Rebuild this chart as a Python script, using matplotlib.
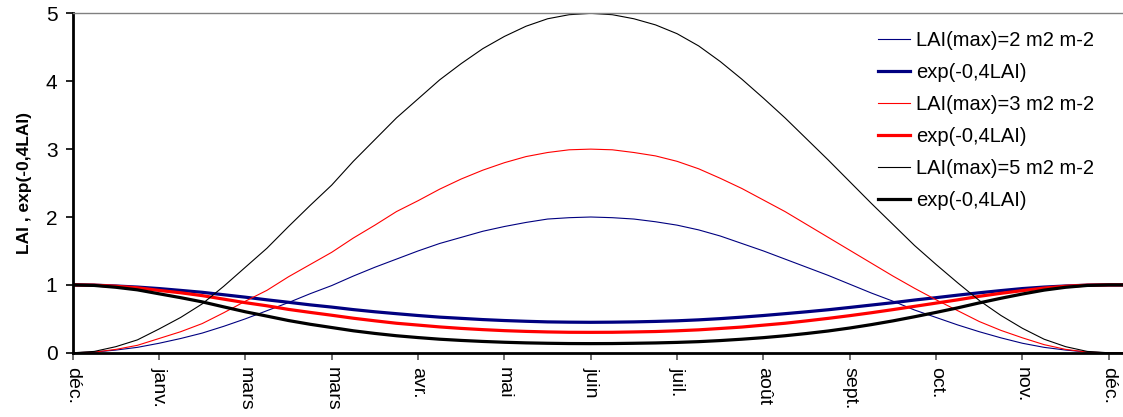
import matplotlib
matplotlib.use('Agg')
import matplotlib.pyplot as plt

plt.rcParams['font.family'] = ['Liberation Sans', 'DejaVu Sans']

# x positions in months from the first tick (quarter-month steps, last point slightly past déc.)
x = [0, 0.25, 0.5, 0.75, 1, 1.25, 1.5, 1.75, 2, 2.25, 2.5, 2.75,
     3, 3.25, 3.5, 3.75, 4, 4.25, 4.5, 4.75, 5, 5.25, 5.5, 5.75,
     6, 6.25, 6.5, 6.75, 7, 7.25, 7.5, 7.75, 8, 8.25, 8.5, 8.75,
     9, 9.25, 9.5, 9.75, 10, 10.25, 10.5, 10.75, 11, 11.25, 11.5, 11.75,
     12, 12.16]

month_labels = ['déc.', 'janv.', 'mars', 'mars', 'avr.', 'mai', 'juin',
                'juil.', 'août', 'sept.', 'oct.', 'nov.', 'déc.']

# LAI
lai_2 = [0, 0.01, 0.04, 0.08, 0.14, 0.21, 0.29, 0.39, 0.50, 0.62, 0.74, 0.87,
         0.99, 1.13, 1.26, 1.38, 1.50, 1.61, 1.70, 1.79, 1.86, 1.92, 1.97, 1.99,
         2.00, 1.99, 1.97, 1.93, 1.88, 1.81, 1.72, 1.61, 1.50, 1.38, 1.26, 1.14,
         1.01, 0.88, 0.76, 0.63, 0.52, 0.41, 0.31, 0.22, 0.14, 0.08, 0.04, 0.01,
         0, 0]
lai_3 = [0, 0.01, 0.05, 0.11, 0.21, 0.31, 0.43, 0.59, 0.76, 0.92, 1.12, 1.30,
         1.48, 1.69, 1.88, 2.08, 2.24, 2.41, 2.56, 2.69, 2.80, 2.89, 2.95, 2.99,
         3.00, 2.99, 2.95, 2.90, 2.82, 2.71, 2.57, 2.42, 2.25, 2.08, 1.89, 1.70,
         1.51, 1.32, 1.13, 0.95, 0.78, 0.62, 0.46, 0.33, 0.22, 0.12, 0.05, 0.01,
         0, 0]
lai_5 = [0, 0.02, 0.09, 0.19, 0.35, 0.52, 0.72, 0.98, 1.26, 1.54, 1.86, 2.17,
         2.47, 2.82, 3.14, 3.46, 3.74, 4.02, 4.26, 4.48, 4.66, 4.81, 4.92, 4.98,
         5.00, 4.98, 4.92, 4.83, 4.70, 4.52, 4.29, 4.03, 3.75, 3.46, 3.15, 2.84,
         2.52, 2.20, 1.89, 1.58, 1.30, 1.03, 0.77, 0.55, 0.36, 0.20, 0.09, 0.02,
         0, 0]

# exp(-0,4LAI)
ext_2 = [1.0, 0.996, 0.984, 0.968, 0.946, 0.919, 0.891, 0.855, 0.819, 0.780, 0.744, 0.706,
         0.673, 0.636, 0.604, 0.576, 0.549, 0.525, 0.507, 0.489, 0.475, 0.464, 0.455, 0.451,
         0.449, 0.451, 0.455, 0.462, 0.471, 0.485, 0.503, 0.525, 0.549, 0.576, 0.604, 0.634,
         0.668, 0.703, 0.738, 0.777, 0.812, 0.849, 0.884, 0.916, 0.946, 0.968, 0.984, 0.996,
         1.0, 1.0]
ext_3 = [1.0, 0.996, 0.980, 0.957, 0.919, 0.884, 0.842, 0.790, 0.738, 0.692, 0.639, 0.595,
         0.553, 0.509, 0.471, 0.435, 0.408, 0.381, 0.359, 0.341, 0.326, 0.315, 0.307, 0.302,
         0.301, 0.302, 0.307, 0.313, 0.324, 0.338, 0.358, 0.379, 0.407, 0.435, 0.470, 0.507,
         0.547, 0.590, 0.636, 0.684, 0.732, 0.780, 0.832, 0.876, 0.916, 0.953, 0.980, 0.996,
         1.0, 1.0]
ext_5 = [1.0, 0.992, 0.965, 0.927, 0.869, 0.812, 0.750, 0.676, 0.604, 0.540, 0.475, 0.420,
         0.372, 0.324, 0.285, 0.251, 0.224, 0.200, 0.182, 0.167, 0.155, 0.146, 0.140, 0.136,
         0.135, 0.136, 0.140, 0.145, 0.153, 0.164, 0.180, 0.200, 0.223, 0.251, 0.284, 0.321,
         0.365, 0.415, 0.470, 0.531, 0.595, 0.662, 0.735, 0.803, 0.866, 0.923, 0.965, 0.992,
         1.0, 1.0]

fig = plt.figure(figsize=(11.23, 4.17), dpi=100)
ax = fig.add_axes([0.0647, 0.154, 0.935, 0.814])

thin, thick = 0.8, 2.3
ax.plot(x, lai_2, color='#000080', lw=thin, label='LAI(max)=2 m2 m-2')
ax.plot(x, ext_2, color='#000080', lw=thick, label='exp(-0,4LAI)')
ax.plot(x, lai_3, color='#ff0000', lw=thin, label='LAI(max)=3 m2 m-2')
ax.plot(x, ext_3, color='#ff0000', lw=thick, label='exp(-0,4LAI)')
ax.plot(x, lai_5, color='black', lw=thin, label='LAI(max)=5 m2 m-2')
ax.plot(x, ext_5, color='black', lw=thick, label='exp(-0,4LAI)')

ax.set_xlim(0, 12.16)
ax.set_ylim(0, 5)
ax.set_xticks(range(13))
ax.set_xticklabels(month_labels, rotation=-90, fontsize=14)
ax.set_yticks(range(6))
ax.tick_params(axis='y', labelsize=15, length=5, width=1.2, pad=6)
ax.tick_params(axis='x', length=5, width=1.2, color='#555555', pad=5)
ax.set_ylabel('LAI , exp(-0,4LAI)', fontsize=12.5, fontweight='bold', labelpad=10)

ax.spines['left'].set_linewidth(2)
ax.spines['bottom'].set_linewidth(2)
ax.spines['top'].set_color('#808080')
ax.spines['top'].set_linewidth(1)
ax.spines['right'].set_visible(False)

ax.legend(loc='upper left', bbox_to_anchor=(878 / 1123, 1 - 31 / 417),
          bbox_transform=fig.transFigure, frameon=False, fontsize=14.5,
          handlelength=1.6, handletextpad=0.3, labelspacing=0.65, borderpad=0,
          borderaxespad=0)

fig.savefig('out.png', dpi=100)
